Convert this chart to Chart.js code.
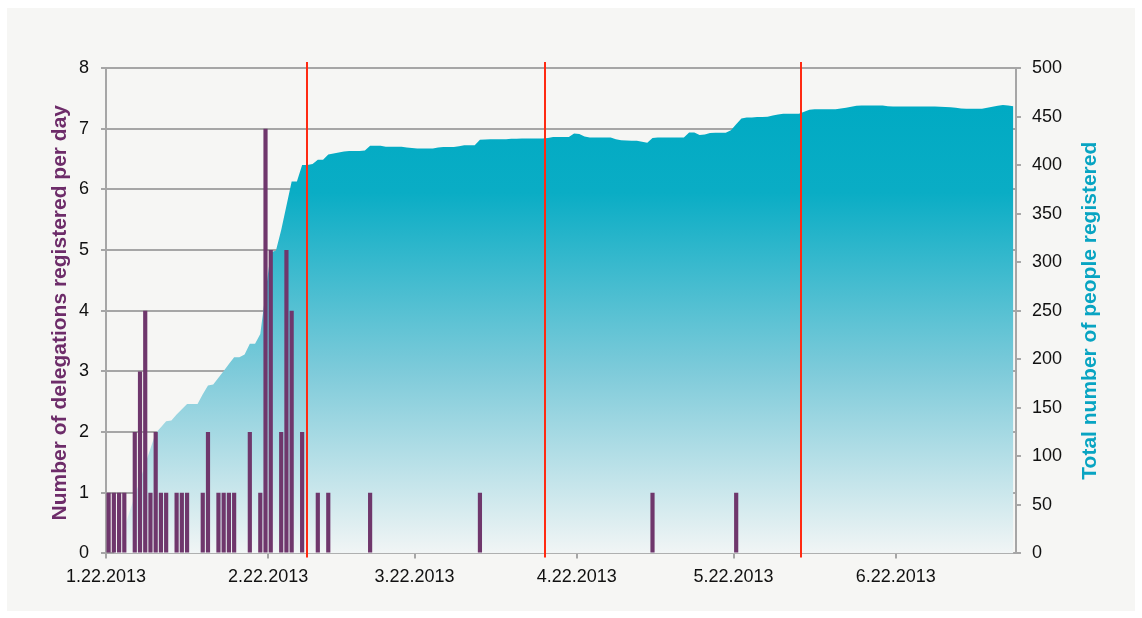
<!DOCTYPE html>
<html><head><meta charset="utf-8">
<script src="https://cdn.jsdelivr.net/npm/chart.js@4.4.1/dist/chart.umd.min.js"></script>
<style>html,body{margin:0;padding:0;background:#fff;} canvas{display:block;}</style>
</head><body>
<canvas id="c" width="1142" height="618"></canvas>
<script>
// Day index 0 = 1.22.2013
const tickDays = [0, 31, 59, 90, 120, 151];
const tickLabels = ['1.22.2013', '2.22.2013', '3.22.2013', '4.22.2013', '5.22.2013', '6.22.2013'];
const leftTitle = 'Number of delegations registered per day';
const rightTitle = 'Total number of people registered';

const delegationsPerDay = [
  1,1,1,1,0,2,3,4,1,2,
  1,1,0,1,1,1,0,0,1,2,
  0,1,1,1,1,0,0,2,0,1,
  7,5,0,2,5,4,0,2,0,0,
  1,0,1,0,0,0,0,0,0,0,
  1,0,0,0,0,0,0,0,0,0,
  0,0,0,0,0,0,0,0,0,0,
  0,1,0,0,0,0,0,0,0,0,
  0,0,0,0,0,0,0,0,0,0,
  0,0,0,0,0,0,0,0,0,0,
  0,0,0,0,1,0,0,0,0,0,
  0,0,0,0,0,0,0,0,0,0,
  1,0,0,0,0,0,0,0,0,0,
  0,0,0,0,0,0,0,0,0,0,
  0,0,0,0,0,0,0,0,0,0,
  0,0,0,0,0,0,0,0,0,0,
  0,0,0,0,0,0,0,0,0,0,
  0,0,0,0
];

const peopleTotal = [
  0,0,10,26,43,59,75,92,108,124,
  130,136,137,143,148.5,154,154,154,164,173,
  174,181,188,195,202,202,205,216,216,226,
  268,310,312,333,358,383,383,400,400,401,
  405.6,405.6,411,412,413,414,414.5,414.5,414.5,415,
  420,420,420,419,419,419,419,418,417.5,417,
  417,417,417,418,418.5,418.5,418.7,419.5,420.4,420.4,
  420.4,426,426.3,426.5,426.5,426.6,426.6,427,427.2,427.4,
  427.4,427.4,427.4,427.4,428,429,429,429,429,432.5,
  432,429.5,428.4,428.4,428.4,428.4,428.4,426.5,425.6,425.3,
  425,425,424,423,428,428.4,428.4,428.4,428.4,428.4,
  428.4,433.5,433.5,431,431.5,433,433.2,433.2,433.2,436,
  442,448,449,449,449.4,449.6,449.8,451,452,453,
  453,453,453,455,457,457.5,457.5,457.5,457.5,457.6,
  458.3,459,460,461,461.4,461.4,461.4,461.4,461.4,460.5,
  460.4,460.4,460.4,460.4,460.4,460.4,460.4,460.4,460.4,460.2,
  459.8,459.5,459,458.2,458,458,458,458,459,460,
  461,461.8,461.4,460.7
];

const markerDays = [38.5, 84.0, 132.8];

Chart.defaults.font.family = "'Liberation Sans', Arial, sans-serif";
Chart.defaults.font.size = 18;
Chart.defaults.color = '#111111';

const GRAY = '#a6a6a6';
const TITLE_FONT = "bold 21px 'Liberation Sans', Arial, sans-serif";

const bgPlugin = {
  id: 'bg',
  beforeDraw(chart) {
    const ctx = chart.ctx;
    ctx.save();
    ctx.fillStyle = '#ffffff';
    ctx.fillRect(0, 0, chart.width, chart.height);
    ctx.fillStyle = '#f6f6f4';
    ctx.fillRect(7, 8, 1128, 603);
    ctx.restore();
  }
};

const markerPlugin = {
  id: 'markers',
  afterDatasetsDraw(chart) {
    const ctx = chart.ctx, xs = chart.scales.x, a = chart.chartArea;
    ctx.save();
    ctx.strokeStyle = '#ff2a12';
    ctx.lineWidth = 2;
    markerDays.forEach(d => {
      const x = Math.round(xs.getPixelForValue(d));
      ctx.beginPath();
      ctx.moveTo(x, a.top - 6);
      ctx.lineTo(x, a.bottom + 4);
      ctx.stroke();
    });
    ctx.restore();
  }
};

const titlesPlugin = {
  id: 'axisTitles',
  afterDraw(chart) {
    const ctx = chart.ctx, a = chart.chartArea;
    const cy = (a.top + a.bottom) / 2;
    ctx.save();
    ctx.font = TITLE_FONT;
    ctx.textAlign = 'center';
    ctx.textBaseline = 'alphabetic';
    ctx.save();
    ctx.translate(65.5, cy + 2);
    ctx.rotate(-Math.PI / 2);
    ctx.fillStyle = '#6d2c69';
    ctx.fillText(leftTitle, 0, 0);
    ctx.restore();
    ctx.save();
    ctx.translate(1096, cy);
    ctx.rotate(-Math.PI / 2);
    ctx.fillStyle = '#08a4c2';
    ctx.fillText(rightTitle, 0, 0);
    ctx.restore();
    ctx.restore();
  }
};

function areaGradient(context) {
  const chart = context.chart;
  const a = chart.chartArea;
  if (!a) return '#00aac3';
  const g = chart.ctx.createLinearGradient(0, a.top + 35, 0, a.bottom);
  g.addColorStop(0, '#00aac3');
  g.addColorStop(0.2, '#0aadc5');
  g.addColorStop(0.6, '#7fcbda');
  g.addColorStop(1, '#f1f5f5');
  return g;
}

new Chart(document.getElementById('c'), {
  type: 'bar',
  data: {
    datasets: [
      {
        type: 'bar',
        order: 1,
        data: delegationsPerDay.map((v, i) => ({ x: i + 0.5, y: v })),
        backgroundColor: '#6f376c',
        borderWidth: 0,
        barPercentage: 0.8,
        categoryPercentage: 1.0,
        yAxisID: 'y',
        xAxisID: 'x'
      },
      {
        type: 'line',
        order: 2,
        data: peopleTotal.map((v, i) => ({ x: i + 0.5, y: v })),
        backgroundColor: areaGradient,
        borderWidth: 0,
        pointRadius: 0,
        tension: 0,
        fill: 'origin',
        yAxisID: 'y1',
        xAxisID: 'x'
      }
    ]
  },
  options: {
    responsive: false,
    animation: false,
    layout: { padding: { left: 67, right: 69, top: 68, bottom: 22 } },
    plugins: { legend: { display: false }, tooltip: { enabled: false } },
    scales: {
      x: {
        type: 'linear',
        min: 0,
        max: 174,
        offset: false,
        afterBuildTicks: (scale) => { scale.ticks = tickDays.map(v => ({ value: v })); },
        ticks: {
          autoSkip: false,
          maxRotation: 0,
          padding: 8,
          callback: (value) => { const k = tickDays.indexOf(value); return k >= 0 ? tickLabels[k] : ''; }
        },
        grid: { drawOnChartArea: false, drawTicks: true, tickLength: 5, color: GRAY, lineWidth: 2, offset: false },
        border: { display: true, color: GRAY, width: 2 }
      },
      y: {
        position: 'left',
        min: 0,
        max: 8,
        ticks: { stepSize: 1, padding: 12 },
        grid: { color: GRAY, lineWidth: 2, tickLength: 5, drawTicks: true },
        border: { display: true, color: GRAY, width: 2 }
      },
      y1: {
        position: 'right',
        min: 0,
        max: 500,
        ticks: { stepSize: 50, padding: 11 },
        grid: { drawOnChartArea: false, color: GRAY, lineWidth: 2, tickLength: 5, drawTicks: true },
        border: { display: true, color: GRAY, width: 2 }
      }
    }
  },
  plugins: [bgPlugin, markerPlugin, titlesPlugin]
});
</script>
</body></html>
